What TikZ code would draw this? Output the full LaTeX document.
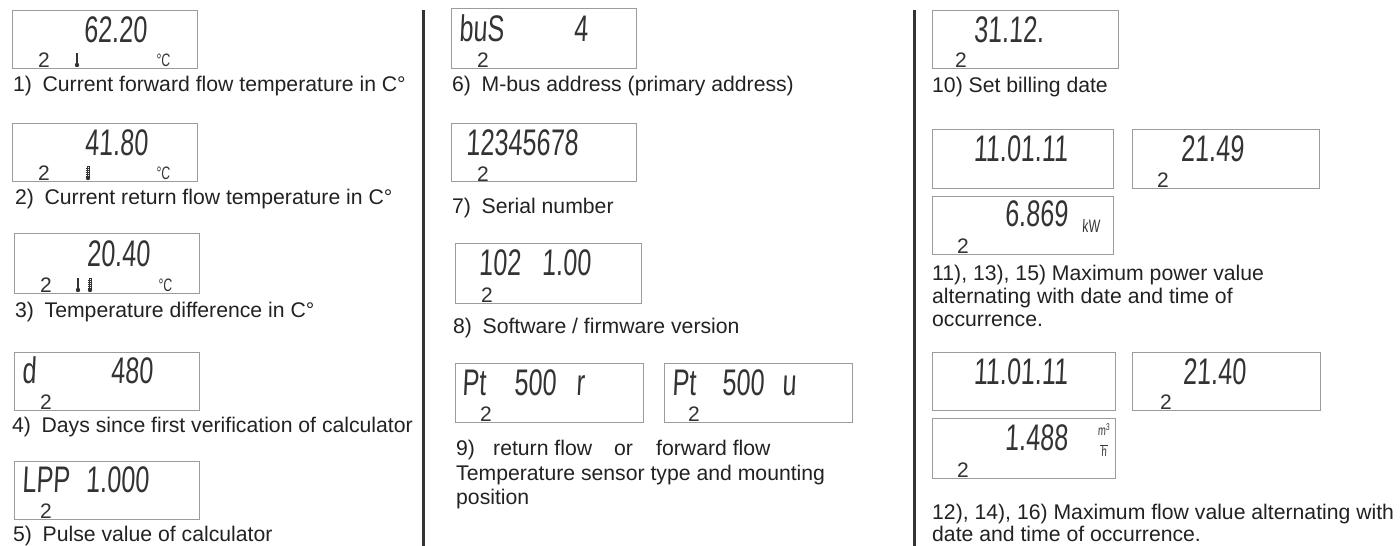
\documentclass[tikz,border=0pt]{standalone}
\usepackage{fontspec}
\setmainfont{Liberation Sans}
\newfontfamily\lcdfont[FakeStretch=0.68,FakeSlant=0.05]{Liberation Sans}
\usetikzlibrary{calc}
\definecolor{boxgray}{HTML}{9C9C9C}
\definecolor{ink}{HTML}{222222}
\definecolor{lcdink}{HTML}{333333}
\definecolor{sepgray}{HTML}{333333}
\tikzset{
  lcdbox/.style={draw=boxgray, line width=1.3pt, fill=white, minimum width=185pt, minimum height=58pt, anchor=north west, inner sep=0pt},
  seg/.style={font=\lcdfont\fontsize{37}{37}\selectfont, text=lcdink, inner sep=0pt, anchor=base east},
  segw/.style={seg, anchor=base west},
  lcdtwo/.style={font=\fontsize{21}{21}\selectfont, text=lcdink, inner sep=0pt, anchor=base west},
  unit/.style={font=\lcdfont\fontsize{18}{18}\selectfont, text=lcdink, inner sep=0pt, anchor=base west},
  captext/.style={font=\fontsize{21.2}{24}\selectfont, text=ink, inner sep=0pt, anchor=base west},
  sepline/.style={draw=sepgray, line width=3pt},
  thermsolid/.pic={\fill[lcdink] (-1,-14) rectangle (1,-3); \fill[lcdink] (0,-2) circle (2.2);},
  thermhollow/.pic={\draw[lcdink, line width=0.5pt] (-1,-14) rectangle (1,-3);
     \foreach \k in {-12,-10,-8,-6,-4} {\draw[lcdink, line width=0.5pt] (-1.8,\k) -- (1.8,\k);}
     \fill[lcdink] (0,-2) circle (2.2);},
}
\begin{document}
\begin{tikzpicture}[x=1pt,y=-1pt]
\useasboundingbox[fill=white] (0,0) rectangle (1400,546);

% separators
\coordinate (s1t) at (423,10); \coordinate (s1b) at (423,546);
\coordinate (s2t) at (914,10); \coordinate (s2b) at (914,546);
\draw[sepline] (s1t) -- (s1b);
\draw[sepline] (s2t) -- (s2b);

% ---------- column 1 ----------
\node[lcdbox] (b1) at (12,10) {};
\node[seg] (b1v) at (147,42) {62.20};
\node[lcdtwo] (b1n) at (38,67) {2};
\pic at (77,67) {thermsolid};
\node[unit] (b1u) at (156,66) {°C};
\node[captext] (c1) at (13,91) {1)\hspace{0.5em}Current forward flow temperature in C°};

\node[lcdbox] (b2) at (12,123) {};
\node[seg] (b2v) at (148,155) {41.80};
\node[lcdtwo] (b2n) at (38,180) {2};
\pic at (88,180) {thermhollow};
\node[unit] (b2u) at (156,179) {°C};
\node[captext] (c2) at (15,204) {2)\hspace{0.5em}Current return flow temperature in C°};

\node[lcdbox, minimum height=60pt] (b3) at (14,233) {};
\node[seg] (b3v) at (150,266) {20.40};
\node[lcdtwo] (b3n) at (40,292) {2};
\pic at (78,292) {thermsolid};
\pic at (90,292) {thermhollow};
\node[unit] (b3u) at (158,291) {°C};
\node[captext] (c3) at (15,317) {3)\hspace{0.5em}Temperature difference in C°};

\node[lcdbox] (b4) at (14,352) {};
\node[segw] (b4d) at (22,383) {d};
\node[seg] (b4v) at (153,383) {480};
\node[lcdtwo] (b4n) at (40,409) {2};
\node[captext] (c4) at (12,432) {4)\hspace{0.5em}Days since first verification of calculator};

\node[lcdbox] (b5) at (14,461) {};
\node[segw] (b5l) at (22,492) {LPP};
\node[seg] (b5v) at (149,492) {1.000};
\node[lcdtwo] (b5n) at (40,518) {2};
\node[captext] (c5) at (13,541) {5)\hspace{0.5em}Pulse value of calculator};

% ---------- column 2 ----------
\node[lcdbox, minimum height=60pt] (b6) at (451,8) {};
\node[segw] (b6l) at (459,41) {buS};
\node[seg] (b6v) at (588,41) {4};
\node[lcdtwo] (b6n) at (477,67) {2};
\node[captext] (c6) at (452,91) {6)\hspace{0.5em}M-bus address (primary address)};

\node[lcdbox] (b7) at (451,123) {};
\node[segw] (b7v) at (466,155) {12345678};
\node[lcdtwo] (b7n) at (477,181) {2};
\node[captext] (c7) at (452,213) {7)\hspace{0.5em}Serial number};

\node[lcdbox, minimum width=186pt, minimum height=60pt] (b8) at (455,243) {};
\node[seg] (b8a) at (521,275) {102};
\node[seg] (b8b) at (591,275) {1.00};
\node[lcdtwo] (b8n) at (481,302) {2};
\node[captext] (c8) at (453,333) {8)\hspace{0.5em}Software / firmware version};

\node[lcdbox, minimum width=188pt, minimum height=59pt] (b9a) at (455,363) {};
\node[segw] (b9ap) at (462,395) {Pt};
\node[segw] (b9an) at (514,395) {500};
\node[segw] (b9ar) at (576,395) {r};
\node[lcdtwo] (b9at) at (480,421) {2};
\node[lcdbox, minimum width=188pt, minimum height=59pt] (b9b) at (664,363) {};
\node[segw] (b9bp) at (672,395) {Pt};
\node[segw] (b9bn) at (722,395) {500};
\node[segw] (b9bu) at (782,395) {u};
\node[lcdtwo] (b9bt) at (688,421) {2};
\node[captext] (c9n) at (456,455) {9)};
\node[captext] (c9r) at (493,455) {return flow};
\node[captext] (c9o) at (614,455) {or};
\node[captext] (c9f) at (656,455) {forward flow};
\node[captext] (c9b) at (456,480) {Temperature sensor type and mounting};
\node[captext] (c9c) at (456,504) {position};

% ---------- column 3 ----------
\node[lcdbox, minimum width=186pt] (b10) at (932,10) {};
\node[seg] (b10v) at (1044,42) {31.12.};
\node[lcdtwo] (b10n) at (955,67) {2};
\node[captext] (c10) at (932,92) {10) Set billing date};

\node[lcdbox, minimum width=181pt, minimum height=59pt] (b11a) at (932,129) {};
\node[seg] (b11av) at (1068,161) {11.01.11};
\node[lcdbox, minimum width=187pt, minimum height=59pt] (b11b) at (1132,129) {};
\node[seg] (b11bv) at (1244,161) {21.49};
\node[lcdtwo] (b11bn) at (1157,187) {2};
\node[lcdbox, minimum width=181pt] (b11c) at (932,196) {};
\node[seg] (b11cv) at (1068,226) {6.869};
\node[unit] (b11cu) at (1082,232) {kW};
\node[lcdtwo] (b11cn) at (957,253) {2};
\node[captext] (c11a) at (932,280) {11), 13), 15) Maximum power value};
\node[captext] (c11b) at (932,303) {alternating with date and time of};
\node[captext] (c11c) at (932,326) {occurrence.};

\node[lcdbox, minimum width=183pt] (b12a) at (932,352) {};
\node[seg] (b12av) at (1068,384) {11.01.11};
\node[lcdbox, minimum width=188pt] (b12b) at (1132,352) {};
\node[seg] (b12bv) at (1246,384) {21.40};
\node[lcdtwo] (b12bn) at (1160,409) {2};
\node[lcdbox, minimum width=183pt, minimum height=60pt] (b12c) at (932,418) {};
\node[seg] (b12cv) at (1068,450) {1.488};
\node[font=\lcdfont\fontsize{14}{14}\selectfont, text=lcdink, inner sep=0pt, align=center] (b12cu) at (1104,440) {m\textsuperscript{3}\\[-4pt]\rule{8pt}{0.6pt}\\[-3pt]h};
\node[lcdtwo] (b12cn) at (957,477) {2};
\node[captext] (c12a) at (932,519) {12), 14), 16) Maximum flow value alternating with};
\node[captext] (c12b) at (932,541) {date and time of occurrence.};
\end{tikzpicture}
\end{document}
